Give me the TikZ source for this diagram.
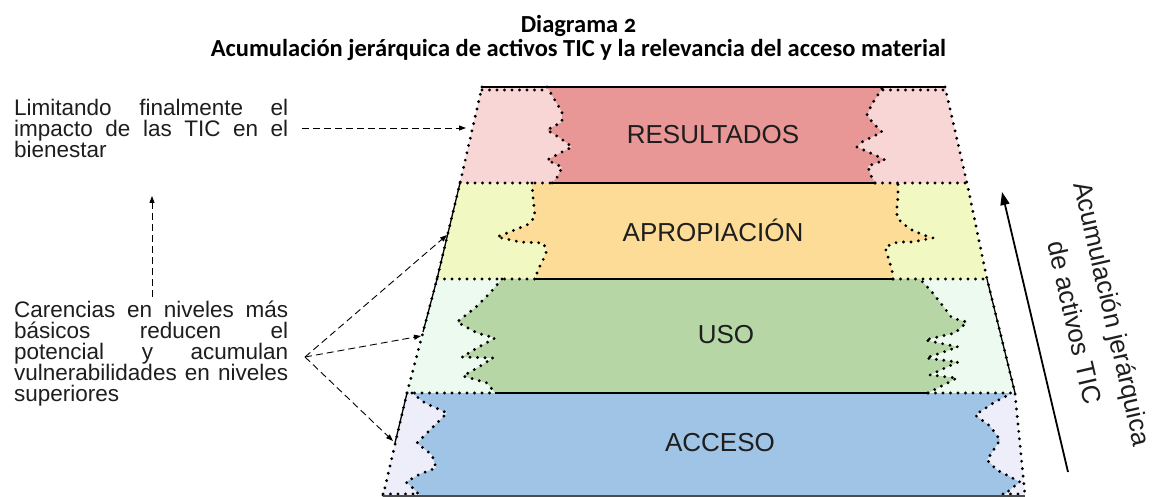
\documentclass[tikz,border=0pt]{standalone}
\usepackage{fontspec}
\setmainfont{Liberation Sans}
\newfontfamily\titlefont[Numbers=OldStyle]{Carlito}
\usetikzlibrary{arrows.meta}
\definecolor{resD}{RGB}{232,150,150}
\definecolor{resL}{RGB}{248,214,214}
\definecolor{aprD}{RGB}{252,220,150}
\definecolor{aprL}{RGB}{242,248,194}
\definecolor{usoD}{RGB}{182,214,166}
\definecolor{usoL}{RGB}{236,250,240}
\definecolor{accD}{RGB}{160,196,230}
\definecolor{accL}{RGB}{238,238,250}
\definecolor{ink}{RGB}{30,30,30}
\begin{document}
\begin{tikzpicture}[x=1pt,y=-1pt,
  dots/.style={line width=3.2pt, dash pattern=on 0pt off 7.5pt, line cap=round, black},
  solidedge/.style={line width=1.3pt, black},
  conn/.style={line width=0.9pt, dash pattern=on 7pt off 4pt, -{Triangle[length=7pt,width=5pt]}},
  lbl/.style={font=\fontsize{26}{30}\selectfont, text=ink, inner sep=0pt},
  side/.style={font=\fontsize{22.5}{21}\selectfont, text=ink, align=left, inner sep=0pt},
  ttl/.style={font=\titlefont\bfseries\fontsize{24.5}{24}\selectfont, inner sep=0pt, anchor=base}]
\useasboundingbox (0,0) rectangle (1157,497);
\fill[white] (0,0) rectangle (1157,497);

% ---------- bands: light outer trapezoids ----------
\fill[resL] (482,87) -- (945,87) -- (967,183) -- (460,183) -- cycle;
\fill[aprL] (460,183) -- (967,183) -- (987,279) -- (437,279) -- cycle;
\fill[usoL] (437,279) -- (987,279) -- (1015,393) -- (407,393) -- cycle;
\fill[accL] (407,393) -- (1015,393) -- (1025,496) -- (383,496) -- cycle;

% ---------- inner dark regions ----------
\fill[resD] (547,87) -- (553,97) -- (562,112) -- (562,122) -- (547,130) -- (560,138) -- (572,147) -- (562,152) -- (547,160) -- (562,167) -- (558,176) -- (552,183)
  -- (875,183) -- (870,174) -- (868,166) -- (885,160) -- (875,155) -- (857,147) -- (862,142) -- (882,132) -- (873,123) -- (867,115) -- (872,104) -- (883,87) -- cycle;
\fill[aprD] (532,183) -- (533,197) -- (535,217) -- (527,225) -- (507,233) -- (497,237) -- (520,242) -- (543,243) -- (547,250) -- (543,260) -- (538,270) -- (535,279)
  -- (893,279) -- (892,270) -- (888,257) -- (885,247) -- (898,242) -- (912,242) -- (933,238) -- (923,235) -- (912,230) -- (902,223) -- (897,217) -- (897,207) -- (898,197) -- (898,183) -- cycle;
\fill[usoD] (502,279) -- (490,293) -- (475,308) -- (457,322) -- (477,333) -- (495,338) -- (477,348) -- (462,357) -- (493,358) -- (477,368) -- (463,376) -- (487,383) -- (495,393)
  -- (928,393) -- (957,378) -- (930,375) -- (958,362) -- (926,358) -- (958,347) -- (925,340) -- (955,333) -- (967,322) -- (952,318) -- (946,310) -- (932,292) -- (920,279) -- cycle;
\fill[accD] (412,393) -- (425,403) -- (447,413) -- (430,430) -- (417,443) -- (432,455) -- (436,468) -- (420,474) -- (406,482) -- (415,490) -- (420,496)
  -- (1003,496) -- (1012,488) -- (1020,482) -- (997,470) -- (987,460) -- (1000,440) -- (990,426) -- (975,415) -- (995,402) -- (1012,393) -- cycle;

% ---------- dotted outlines ----------
\draw[dots] (482,87) -- (460,183) -- (437,279) -- (407,393) -- (383,496);
\draw[dots] (945,87) -- (967,183) -- (987,279) -- (1015,393) -- (1025,496);
\draw[dots] (482,90) -- (547,90);
\draw[dots] (883,90) -- (945,90);
\draw[dots] (460,183) -- (552,183);
\draw[dots] (875,183) -- (967,183);
\draw[dots] (437,279) -- (535,279);
\draw[dots] (893,279) -- (987,279);
\draw[dots] (407,393) -- (495,393);
\draw[dots] (928,393) -- (1015,393);
\draw[dots] (383,494) -- (420,494);
\draw[dots] (1003,494) -- (1025,494);
% jagged borders
\draw[dots] (547,87) -- (553,97) -- (562,112) -- (562,122) -- (547,130) -- (560,138) -- (572,147) -- (562,152) -- (547,160) -- (562,167) -- (558,176) -- (552,183);
\draw[dots] (875,183) -- (870,174) -- (868,166) -- (885,160) -- (875,155) -- (857,147) -- (862,142) -- (882,132) -- (873,123) -- (867,115) -- (872,104) -- (883,87);
\draw[dots] (532,183) -- (533,197) -- (535,217) -- (527,225) -- (507,233) -- (497,237) -- (520,242) -- (543,243) -- (547,250) -- (543,260) -- (538,270) -- (535,279);
\draw[dots] (893,279) -- (892,270) -- (888,257) -- (885,247) -- (898,242) -- (912,242) -- (933,238) -- (923,235) -- (912,230) -- (902,223) -- (897,217) -- (897,207) -- (898,197) -- (898,183);
\draw[dots] (502,279) -- (490,293) -- (475,308) -- (457,322) -- (477,333) -- (495,338) -- (477,348) -- (462,357) -- (493,358) -- (477,368) -- (463,376) -- (487,383) -- (495,393);
\draw[dots] (928,393) -- (957,378) -- (930,375) -- (958,362) -- (926,358) -- (958,347) -- (925,340) -- (955,333) -- (967,322) -- (952,318) -- (946,310) -- (932,292) -- (920,279);
\draw[dots] (412,393) -- (425,403) -- (447,413) -- (430,430) -- (417,443) -- (432,455) -- (436,468) -- (420,474) -- (406,482) -- (415,490) -- (420,496);
\draw[dots] (1003,496) -- (1012,488) -- (1020,482) -- (997,470) -- (987,460) -- (1000,440) -- (990,426) -- (975,415) -- (995,402) -- (1012,393);

% ---------- solid edges ----------
\draw[solidedge, line width=2pt] (482,87) -- (945,87);
\draw[solidedge] (552,183) -- (875,183);
\draw[solidedge] (535,279) -- (893,279);
\draw[solidedge] (495,393) -- (928,393);
\draw[line width=1.2pt, black!70] (383,496) -- (1025,496);
\draw[solidedge] (460,183) -- (437,279) -- (423,332);
\draw[solidedge] (987,279) -- (1015,393);
\draw[solidedge] (407,393) -- (395,443);

% ---------- band labels ----------
\node[lbl] (res) at (713,135) {RESULTADOS};
\node[lbl] (apr) at (713,230) {APROPIACIÓN};
\node[lbl] (uso) at (726,335) {USO};
\node[lbl] (acc) at (720,443) {ACCESO};

% ---------- title ----------
\node[ttl] (title1) at (578.5,33) {Diagrama 2};
\node[ttl] (title2) at (578.5,57) {Acumulación jerárquica de activos TIC y la relevancia del acceso material};

% ---------- side texts ----------
\node[side, anchor=north west] (limit) at (14,98.5)
  {\makebox[274pt][s]{Limitando finalmente el}\\
   \makebox[274pt][s]{impacto de las TIC en el}\\
   bienestar};
\node[side, anchor=north west] (caren) at (14,300.5)
  {\makebox[274pt][s]{Carencias en niveles más}\\
   \makebox[274pt][s]{básicos reducen el}\\
   \makebox[274pt][s]{potencial y acumulan}\\
   \makebox[274pt][s]{vulnerabilidades en niveles}\\
   superiores};

% ---------- connector anchors ----------
\coordinate (limitEnd) at (302,128);
\coordinate (resIn) at (466,128);
\coordinate (carTop) at (152,297);
\coordinate (upTip) at (152,196);
\coordinate (junc) at (305,357);
\coordinate (aprIn) at (447,235);
\coordinate (usoIn) at (421,336);
\coordinate (accIn) at (393,441);
\coordinate (accBase) at (1068,472);
\coordinate (accTop) at (1002,192);

\draw[conn] (limitEnd) -- (resIn);
\draw[conn] (carTop) -- (upTip);
\draw[conn] (junc) -- (aprIn);
\draw[conn] (junc) -- (usoIn);
\draw[conn] (junc) -- (accIn);
\draw[line width=1.8pt, -{Triangle[length=13pt,width=9pt]}] (accBase) -- (accTop);

% ---------- rotated label ----------
\node[rotate=-77, font=\fontsize{26}{39}\selectfont, align=center, text=ink, inner sep=0pt] (cum) at (1094,318)
  {Acumulación jerárquica\\de activos TIC};
\end{tikzpicture}
\end{document}
